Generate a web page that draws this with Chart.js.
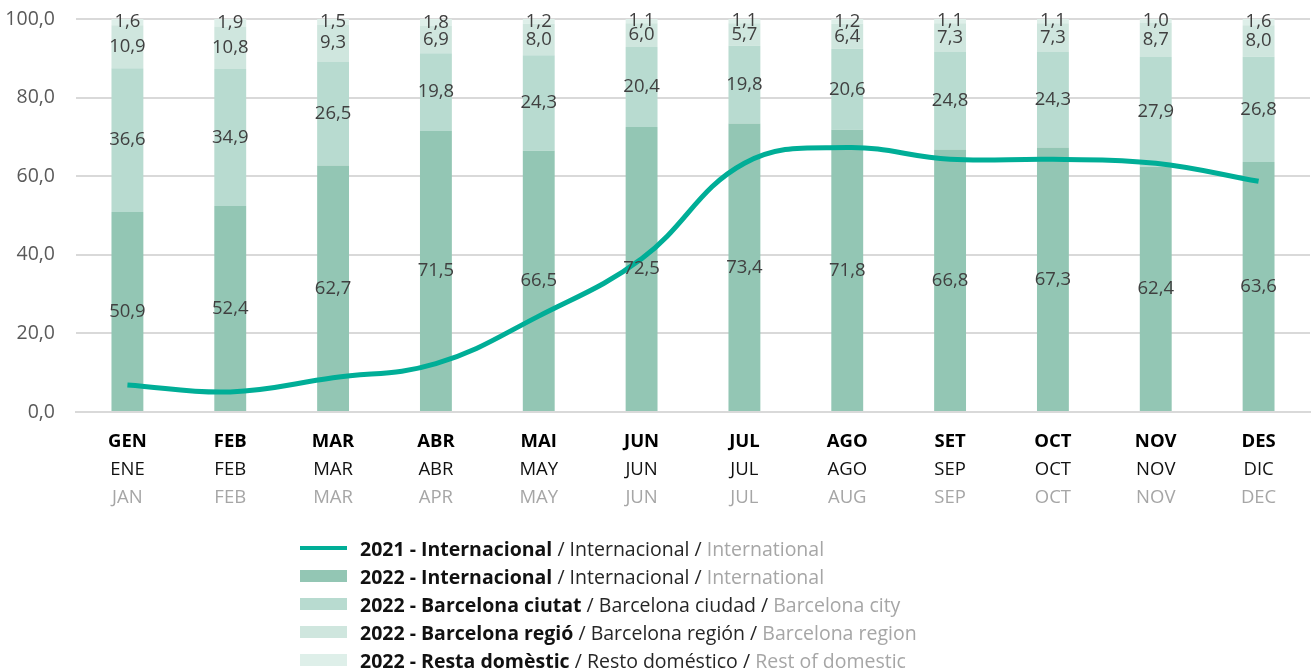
<!DOCTYPE html>
<html>
<head>
<meta charset="utf-8">
<script src="https://cdn.jsdelivr.net/npm/chart.js@4/dist/chart.umd.min.js"></script>
<style>
  html, body { margin: 0; padding: 0; background: #fff; }
  #wrap { position: relative; width: 1311px; height: 672px; }
  #legend { position: absolute; left: 300px; top: 534px; font-family: "Open Sans", sans-serif; font-size: 19.5px; }
  .row { height: 28px; display: flex; align-items: center; white-space: nowrap; }
  .sw { width: 47px; margin-right: 13px; }
  .cat { font-weight: bold; color: #111; }
  .es { color: #262626; }
  .en { color: #a6a6a6; }
</style>
</head>
<body>
<div id="wrap">
  <canvas id="myChart" width="1311" height="672"></canvas>
  <div id="legend"></div>
</div>
<script>
// month labels: catalan / spanish / english
const monthsCa = ["GEN", "FEB", "MAR", "ABR", "MAI", "JUN", "JUL", "AGO", "SET", "OCT", "NOV", "DES"];
const monthsEs = ["ENE", "FEB", "MAR", "ABR", "MAY", "JUN", "JUL", "AGO", "SEP", "OCT", "NOV", "DIC"];
const monthsEn = ["JAN", "FEB", "MAR", "APR", "MAY", "JUN", "JUL", "AUG", "SEP", "OCT", "NOV", "DEC"];

// % of passengers, 2022 stacked
const intl2022 = [50.9, 52.4, 62.7, 71.5, 66.5, 72.5, 73.4, 71.8, 66.8, 67.3, 62.4, 63.6];
const bcnCity = [36.6, 34.9, 26.5, 19.8, 24.3, 20.4, 19.8, 20.6, 24.8, 24.3, 27.9, 26.8];
const bcnRegion = [10.9, 10.8, 9.3, 6.9, 8.0, 6.0, 5.7, 6.4, 7.3, 7.3, 8.7, 8.0];
const restDomestic = [1.6, 1.9, 1.5, 1.8, 1.2, 1.1, 1.1, 1.2, 1.1, 1.1, 1.0, 1.6];

// 2021 international line
const intl2021 = [6.9, 5.1, 8.7, 12.3, 24.4, 39.0, 63.3, 67.3, 64.3, 64.3, 63.3, 58.7];

const yTicks = [0, 20, 40, 60, 80, 100];

const legendCa = ["2021 - Internacional", "2022 - Internacional", "2022 - Barcelona ciutat", "2022 - Barcelona regió", "2022 - Resta domèstic"];
const legendEs = ["Internacional", "Internacional", "Barcelona ciudad", "Barcelona región", "Resto doméstico"];
const legendEn = ["International", "International", "Barcelona city", "Barcelona region", "Rest of domestic"];

const FONT = "'Open Sans', sans-serif";
const SIZE = 18.5;
const lineColor = "#00ae97";
const barColors = ["#93c6b4", "#b8dbd0", "#cfe6de", "#deefe9"];

const fmt = v => v.toFixed(1).replace(".", ",");

// draws the value in the middle of each bar segment
const barValues = {
  id: "barValues",
  afterDatasetsDraw(chart) {
    const ctx = chart.ctx;
    ctx.save();
    ctx.font = SIZE + "px " + FONT;
    ctx.fillStyle = "#404040";
    ctx.textAlign = "center";
    ctx.textBaseline = "middle";
    chart.data.datasets.forEach((ds, i) => {
      if (ds.type !== "bar") return;
      chart.getDatasetMeta(i).data.forEach((bar, j) => {
        const p = bar.getProps(["x", "y", "base"], true);
        ctx.fillText(fmt(ds.data[j]), p.x, (p.y + p.base) / 2);
      });
    });
    ctx.restore();
  }
};

const barDatasets = [intl2022, bcnCity, bcnRegion, restDomestic].map((d, i) => ({
  type: "bar",
  label: legendCa[i + 1],
  data: d,
  backgroundColor: barColors[i],
  stack: "y2022",
  barPercentage: 0.31,
  categoryPercentage: 1,
  order: 2
}));

const monthAxis = (labels, color, weight, pad, h) => ({
  type: "category",
  position: "bottom",
  labels: labels,
  offset: true,
  afterFit: s => { s.height = h; },
  grid: { display: false, drawTicks: false },
  border: { display: false },
  ticks: { padding: pad, color: color, font: { family: FONT, size: SIZE, weight: weight }, maxRotation: 0, autoSkip: false }
});

const xMain = monthAxis(monthsCa, "#000", "bold", 19, 40);
xMain.stacked = true;
xMain.border = { display: true, color: "#d9d9d9", width: 2 };

const chart = new Chart(document.getElementById("myChart").getContext("2d"), {
  data: {
    labels: monthsCa,
    datasets: [{
      type: "line",
      label: legendCa[0],
      data: intl2021,
      borderColor: lineColor,
      borderWidth: 5,
      pointRadius: 0,
      tension: 0.4,
      stack: "line",
      order: 0
    }].concat(barDatasets)
  },
  options: {
    responsive: false,
    animation: false,
    layout: { padding: { top: 19, right: 1, left: 0, bottom: 164 } },
    plugins: { legend: { display: false }, tooltip: { enabled: false } },
    scales: {
      x: xMain,
      x2: monthAxis(monthsEs, "#111", "normal", 7, 28),
      x3: monthAxis(monthsEn, "#a6a6a6", "normal", 7, 28),
      y: {
        stacked: true,
        min: 0,
        max: 100,
        afterFit: s => { s.width = 76; },
        afterBuildTicks: s => { s.ticks = yTicks.map(v => ({ value: v })); },
        grid: { color: "#d9d9d9", lineWidth: 2, drawTicks: true, tickLength: 20, tickColor: "rgba(0,0,0,0)" },
        border: { display: false },
        ticks: { padding: 1, color: "#595959", font: { family: FONT, size: 19.5 }, callback: v => fmt(v) }
      }
    }
  },
  plugins: [barValues]
});

// html legend with the three languages
const legend = document.getElementById("legend");
legendCa.forEach((name, i) => {
  const row = document.createElement("div");
  row.className = "row";
  const sw = document.createElement("span");
  sw.className = "sw";
  if (i === 0) {
    sw.style.height = "4px";
    sw.style.background = lineColor;
  } else {
    sw.style.height = "12px";
    sw.style.background = barColors[i - 1];
  }
  row.appendChild(sw);
  row.insertAdjacentHTML("beforeend",
    '<span class="cat">' + name + '</span>&nbsp;<span class="es">/ ' + legendEs[i] +
    ' /</span>&nbsp;<span class="en">' + legendEn[i] + '</span>');
  legend.appendChild(row);
});
</script>
</body>
</html>
